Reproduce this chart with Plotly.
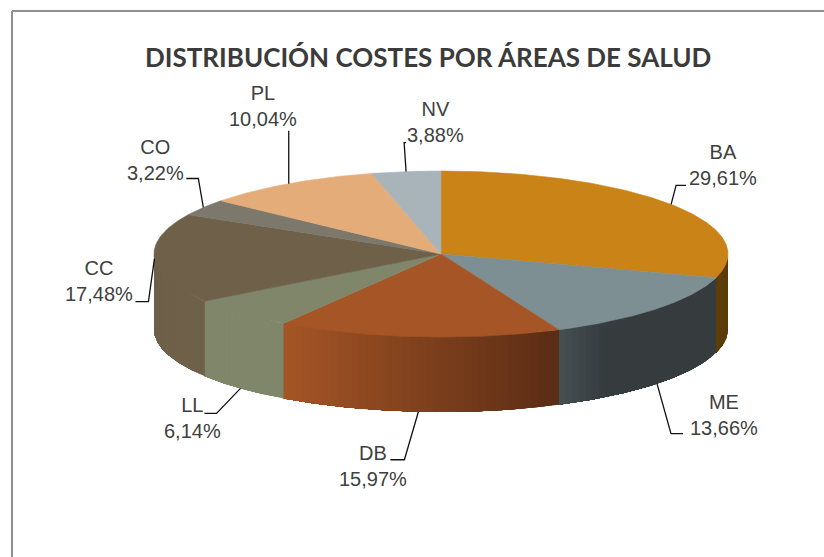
import math
import plotly.graph_objects as go

# ---- data ----
categories = ["BA", "ME", "DB", "LL", "CC", "CO", "PL", "NV"]
values = [29.61, 13.66, 15.97, 6.14, 17.48, 3.22, 10.04, 3.88]
title_text = "DISTRIBUCIÓN COSTES POR ÁREAS DE SALUD"

# ---- styles ----
top_colors = ["#C98316", "#7E8F93", "#A55526", "#80866A", "#6E6049", "#7C786B", "#E4AC78", "#A9B3BA"]
side_left = ["#5E3E08", "#464F53", "#A55526", "#80866A", "#6E6049", "#6E6049", "#E4AC78", "#A9B3BA"]
side_right = ["#5A3A08", "#363C3E", "#5A2C14", "#80866A", "#6E6049", "#6E6049", "#E4AC78", "#A9B3BA"]
side_ramp = [1, 3.5, 1, 1, 1, 1, 1, 1]
text_color = "#404040"

# ---- layout geometry (pixels of the 824x557 page) ----
CX, CY, RX, RY, DEPTH = 441, 254, 287, 83, 75
label_pos = [(723, 165), (724, 415), (373, 466), (192, 418), (99, 281), (155, 160), (263, 106), (435, 122)]
# leader elbows, relative to the anchor on the slice edge
elbows = [[(5, -19), (15, -19)], [(14, 50), (26, 50)], [(-14, 48), (-28, 48)], [(-24, 25), (-36, 25)],
          [(-6, 43), (-19, 43)], [(-5, -29), (-17, -29)], [(0, -53)], [(-2, -29), (0, -29)]]


def px(angle_deg, drop=0.0):
    a = math.radians(angle_deg)
    return CX + RX * math.sin(a), CY - RY * math.cos(a) + drop


def arc(a0, a1, drop=0.0, step=0.5):
    n = max(2, int(abs(a1 - a0) / step) + 1)
    pts = [px(a0 + (a1 - a0) * i / (n - 1), drop) for i in range(n)]
    return [p[0] for p in pts], [p[1] for p in pts]


def mix(c0, c1, t):
    a = [int(c0[i:i + 2], 16) for i in (1, 3, 5)]
    b = [int(c1[i:i + 2], 16) for i in (1, 3, 5)]
    return "rgb(%d,%d,%d)" % tuple(round(u + (v - u) * t) for u, v in zip(a, b))


total = sum(values)
edges = [0.0]
for v in values:
    edges.append(edges[-1] + 360.0 * v / total)

fig = go.Figure()

# visible outer walls: each band runs from its start to the slice end, painted
# over the previous one, so that no seams show between neighbouring bands
for i in range(len(values)):
    lo, hi = max(edges[i], 90.0), min(edges[i + 1], 270.0)
    if hi <= lo:
        continue
    xl = px(hi)[0]
    xr = px(lo)[0]
    n = max(2, int((hi - lo) / 1.5))
    for k in range(n):
        a0 = lo + (hi - lo) * k / n
        a_mid = lo + (hi - lo) * (k + 0.5) / n
        xt, yt = arc(a0, hi)
        xb, yb = arc(hi, a0, DEPTH)
        xm = px(a_mid)[0]
        t = min(1.0, side_ramp[i] * (xm - xl) / max(xr - xl, 1))
        c = mix(side_left[i], side_right[i], t)
        fig.add_trace(go.Scatter(x=xt + xb + xt[:1], y=yt + yb + yt[:1], mode="lines", fill="toself",
                                 fillcolor=c, line=dict(width=0), hoverinfo="skip", showlegend=False))

# top faces
for i, cat in enumerate(categories):
    xa, ya = arc(edges[i], edges[i + 1])
    fig.add_trace(go.Scatter(x=[CX] + xa + [CX], y=[CY] + ya + [CY], mode="lines", fill="toself", name=cat,
                             fillcolor=top_colors[i], line=dict(color=top_colors[i], width=0.6),
                             hoverinfo="name", showlegend=False))

# leaders and labels
annotations = []
for i, cat in enumerate(categories):
    mid = (edges[i] + edges[i + 1]) / 2
    drop = DEPTH if 100 < mid < 250 else 0
    ax, ay = px(mid, drop)
    xs = [ax] + [ax + e[0] for e in elbows[i]]
    ys = [ay] + [ay + e[1] for e in elbows[i]]
    fig.add_trace(go.Scatter(x=xs, y=ys, mode="lines", line=dict(color="#111111", width=1.3),
                             hoverinfo="skip", showlegend=False))
    label = "%s<br>%s%%" % (cat, ("%.2f" % values[i]).replace(".", ","))
    annotations.append(dict(x=label_pos[i][0], y=label_pos[i][1], xref="x", yref="y", text=label,
                            showarrow=False, align="center", xanchor="center", yanchor="middle",
                            font=dict(family="Liberation Sans", size=20, color=text_color)))

annotations.append(dict(x=428, y=57, xref="x", yref="y", text="<b>%s</b>" % title_text, showarrow=False,
                        xanchor="center", yanchor="middle",
                        font=dict(family="Lato", size=26, color="#3B3B3B")))

frame = dict(type="line", xref="x", yref="y", line=dict(color="#8F8F8F", width=2))
fig.update_layout(
    width=824, height=557, margin=dict(l=0, r=0, t=0, b=0),
    paper_bgcolor="white", plot_bgcolor="white",
    xaxis=dict(range=[0, 824], visible=False, fixedrange=True),
    yaxis=dict(range=[557, 0], visible=False, fixedrange=True),
    annotations=annotations,
    shapes=[dict(frame, x0=12, x1=824, y0=11, y1=11), dict(frame, x0=12, x1=12, y0=11, y1=557)],
)
fig.write_html("out.html", config=dict(displayModeBar=False),
               post_script="document.body.style.margin='0';document.documentElement.style.overflow='hidden';")
